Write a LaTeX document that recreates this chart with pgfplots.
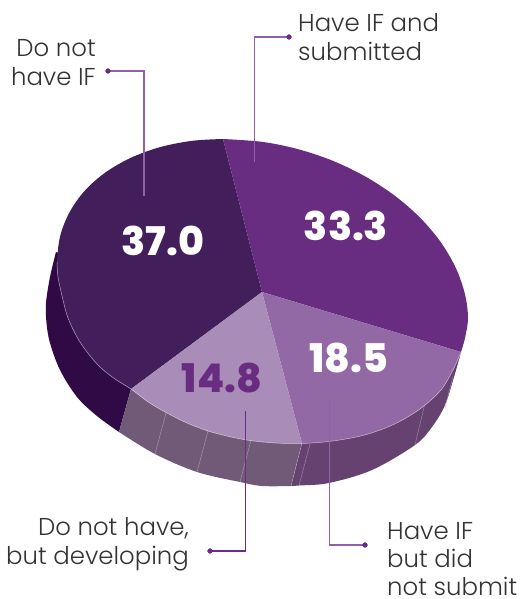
\documentclass[border=0pt]{standalone}
\usepackage{pgfplots}
\pgfplotsset{compat=1.18}
\usepackage{fontspec}
\setmainfont{Poppins Light}
\newfontfamily\valfont{Poppins ExtraBold}
\definecolor{topA}{HTML}{421F5A}
\definecolor{topB}{HTML}{682D80}
\definecolor{topC}{HTML}{9268A5}
\definecolor{topD}{HTML}{AA8CB8}
\definecolor{sideA}{HTML}{2F0A45}
\definecolor{sideC}{HTML}{664270}
\definecolor{sideCd}{HTML}{5A3A68}
\definecolor{sideD}{HTML}{705A78}
\definecolor{leadA}{HTML}{9060A8}
\definecolor{leadB}{HTML}{6A2C8C}
\definecolor{ink}{HTML}{333333}
\newcommand{\lbl}[4]{\node[anchor=#1,inner sep=0pt,text=ink,font=\fontsize{24.4}{29}\selectfont] at (axis cs:#2,#3) {#4};}
\begin{document}
\begin{tikzpicture}
\useasboundingbox (0,0) rectangle (523pt,599pt);
\begin{axis}[
  at={(0,0)}, anchor=south west,
  scale only axis, width=523pt, height=599pt,
  xmin=0, xmax=523, ymin=0, ymax=599, y dir=reverse,
  hide axis, clip=false,
  rim/.style={smooth, tension=0.55, draw=none},
]
% outer side wall of the disc, one band per slice
\addplot[rim, fill=sideA] coordinates {(56,252) (50,277) (46,303) (46.5,323) (50,343) (60,370) (77,397) (97,416) (119,432)} -- (axis cs:131,389) -- (axis cs:200,300) -- cycle;
\addplot[rim, fill=sideD] coordinates {(119,432) (155,454) (197,472) (240,482) (262,486) (291,486)} -- (axis cs:302,443) -- (axis cs:131,389) -- cycle;
\addplot[rim, fill=sideC] coordinates {(291,486) (299,485.5) (329,483) (372,470) (415,445) (432,427) (445,405) (455,373) (461,352)} -- (axis cs:302,443) -- cycle;
\addplot[fill=sideCd, draw=none] coordinates {(461,352) (453,377) (445,407) (455,373)} -- cycle;

% seams on the side wall
\addplot[white, opacity=.35, line width=.5pt] coordinates {(166,413) (155,454)};
\addplot[white, opacity=.35, line width=.5pt] coordinates {(208,431) (197,472)};
\addplot[white, opacity=.35, line width=.5pt] coordinates {(251,440) (240,482)};
\addplot[white, opacity=.35, line width=.5pt] coordinates {(302,443) (291,486)};
\addplot[white, opacity=.35, line width=.5pt] coordinates {(310,444) (299,485.5)};
\addplot[white, opacity=.35, line width=.5pt] coordinates {(425,403) (415,445)};
\addplot[white, opacity=.35, line width=.5pt] coordinates {(453,377) (445,407)};

% top face slices
\addplot[rim, fill=topA] coordinates {(223,139) (192.2,140.8) (159.8,147.2) (130.4,158) (105.1,172.7) (84.5,191) (69.4,212.5) (60.1,236.3) (57,262) (58,277) (63,300) (68,318) (77,337) (87,352) (100,367) (115,379) (131,389)} -- (axis cs:262,292) -- cycle;
\addplot[rim, fill=topB] coordinates {(461,352) (465,338) (468,318) (464.9,293.9) (455.6,267.5) (440.5,241.8) (419.9,217.5) (394.6,195.6) (365.3,176.5) (332.8,160.8) (298.2,149.2) (262.5,141.9) (223,139)} -- (axis cs:262,292) -- cycle;
\addplot[rim, fill=topC] coordinates {(302,443.5) (332.8,441) (365.3,434.8) (394.6,424) (419.9,409) (440.5,390.5) (453,370) (461,352)} -- (axis cs:262,292) -- cycle;
\addplot[rim, fill=topD] coordinates {(131,389) (149,402.5) (167,413) (187,423) (208,431) (229,436.5) (250,440.5) (276,443) (302,443.5)} -- (axis cs:262,292) -- cycle;

% pale edge between top face and side wall
\addplot[smooth, tension=0.55, white, opacity=.6, line width=.5pt] coordinates {(57,262) (58,277) (63,300) (68,318) (77,337) (87,352) (100,367) (115,379) (131,389) (149,402.5) (167,413) (187,423) (208,431) (229,436.5) (250,440.5) (276,443) (302,443.5) (332.8,441) (365.3,434.8) (394.6,424) (419.9,409) (440.5,390.5) (453,370) (461,352)};

% leader lines with end dots
\addplot[leadA, line width=1.2pt] coordinates {(108,71) (144,71) (144,196)};
\addplot[leadA, line width=1.2pt] coordinates {(289,37) (254.5,37) (254.5,162)};
\addplot[leadB, line width=1.2pt] coordinates {(210,551) (245.7,551) (245.7,411)};
\addplot[leadA, line width=1.2pt] coordinates {(365,545) (329.7,545) (329.7,400)};
\addplot[only marks, mark=*, mark size=2.4pt, leadB, mark options={draw=none}] coordinates {(108,71) (289,37) (210,551) (365,545)};

% slice values
\addplot[only marks, mark=none, point meta=explicit symbolic, nodes near coords, nodes near coords align={anchor=center},
  every node near coord/.style={anchor=center, inner sep=0pt, text=white, font=\valfont\fontsize{39.5}{39.5}\selectfont}]
  coordinates {(163,241) [37.0] (346,226) [33.3] (349,358) [18.5]};
\addplot[only marks, mark=none, point meta=explicit symbolic, nodes near coords, nodes near coords align={anchor=center},
  every node near coord/.style={anchor=center, inner sep=0pt, text=topB, font=\valfont\fontsize{39.5}{39.5}\selectfont}]
  coordinates {(222,378) [14.8]};

% category labels
\lbl{base east}{96}{57}{Do not}
\lbl{base east}{96}{86}{have IF}
\lbl{base west}{298}{32}{Have IF and}
\lbl{base west}{298}{61}{submitted}
\lbl{base east}{189}{535}{Do not have,}
\lbl{base east}{189}{564}{but developing}
\lbl{base west}{387}{539}{Have IF}
\lbl{base west}{387}{567}{but did}
\lbl{base west}{387}{595}{not submit}
\end{axis}
\end{tikzpicture}
\end{document}
